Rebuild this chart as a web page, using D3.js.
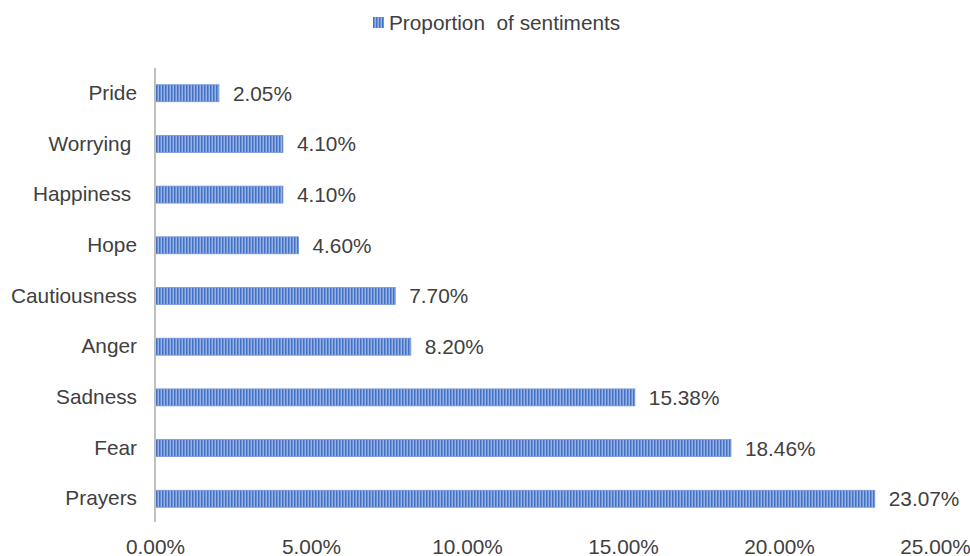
<!DOCTYPE html>
<html>
<head>
<meta charset="utf-8">
<script src="https://cdn.jsdelivr.net/npm/d3@7"></script>
<style>
  html, body { margin: 0; padding: 0; background: #ffffff; }
  svg { display: block; }
  text { font-family: "Liberation Sans", Arial, sans-serif; white-space: pre; }
</style>
</head>
<body>
<svg id="chart" width="970" height="556"></svg>
<script>
// Sentiment categories, top to bottom
const categories = ["Pride", "Worrying ", "Happiness ", "Hope", "Cautiousness", "Anger", "Sadness", "Fear", "Prayers"];
// Share of each sentiment (percent)
const values = [2.05, 4.10, 4.10, 4.60, 7.70, 8.20, 15.38, 18.46, 23.07];
// Horizontal axis ticks (percent)
const tickValues = [0, 5, 10, 15, 20, 25];
const seriesName = "Proportion  of sentiments";

const svg = d3.select("#chart");
const width = 970, height = 556;
const margin = { left: 155, right: 35, top: 68, bottom: 32 };
const fontSize = 20.8;

const x = d3.scaleLinear().domain([0, 25]).range([margin.left, width - margin.right]);
const y = d3.scaleBand().domain(categories)
  .range([margin.top, height - margin.bottom]).paddingInner(0.665).paddingOuter(0.33);

const textColor = "#404040";

// Vertical stripe fill for the bars
const defs = svg.append("defs");
const pat = defs.append("pattern")
  .attr("id", "stripes").attr("patternUnits", "userSpaceOnUse")
  .attr("width", 3).attr("height", 10);
pat.append("rect").attr("width", 3).attr("height", 10).attr("fill", "#95b1e6");
pat.append("rect").attr("width", 1.5).attr("height", 10).attr("fill", "#4472c4");

// Bars
svg.append("g").selectAll("rect")
  .data(values)
  .join("rect")
  .attr("x", x(0))
  .attr("y", (d, i) => y(categories[i]))
  .attr("width", d => x(d) - x(0))
  .attr("height", y.bandwidth())
  .attr("fill", "url(#stripes)")
  .attr("stroke", "#7396d8")
  .attr("stroke-width", 0.8);

// Value labels
svg.append("g").selectAll("text")
  .data(values)
  .join("text")
  .attr("x", d => x(d) + 14)
  .attr("y", (d, i) => y(categories[i]) + y.bandwidth() / 2)
  .attr("dy", "0.36em")
  .attr("font-size", fontSize)
  .attr("fill", textColor)
  .text(d => d.toFixed(2) + "%");

// Category axis (left)
const yAxis = svg.append("g")
  .attr("transform", `translate(${x(0)},0)`)
  .call(d3.axisLeft(y).tickSize(0).tickPadding(18));
yAxis.select(".domain").attr("stroke", "#bfbfbf").attr("stroke-width", 2)
  .attr("d", `M0,${margin.top}V${height - margin.bottom - 2}`);
yAxis.selectAll("text")
  .attr("font-size", fontSize)
  .attr("font-family", "Liberation Sans, Arial, sans-serif")
  .attr("fill", textColor);

// Value axis (bottom): labels only
const xAxis = svg.append("g")
  .attr("transform", `translate(0,${height - margin.bottom})`)
  .call(d3.axisBottom(x).tickValues(tickValues).tickSize(0).tickPadding(15)
    .tickFormat(d => d.toFixed(2) + "%"));
xAxis.select(".domain").remove();
xAxis.selectAll("text")
  .attr("font-size", fontSize)
  .attr("font-family", "Liberation Sans, Arial, sans-serif")
  .attr("fill", textColor);

// Legend
const legend = svg.append("g").attr("transform", "translate(373,17)");
legend.append("rect").attr("width", 11).attr("height", 11)
  .attr("fill", "url(#stripes)");
legend.append("text").attr("x", 16).attr("y", 5.5).attr("dy", "0.36em")
  .attr("font-size", fontSize).attr("fill", textColor).text(seriesName);
</script>
</body>
</html>
